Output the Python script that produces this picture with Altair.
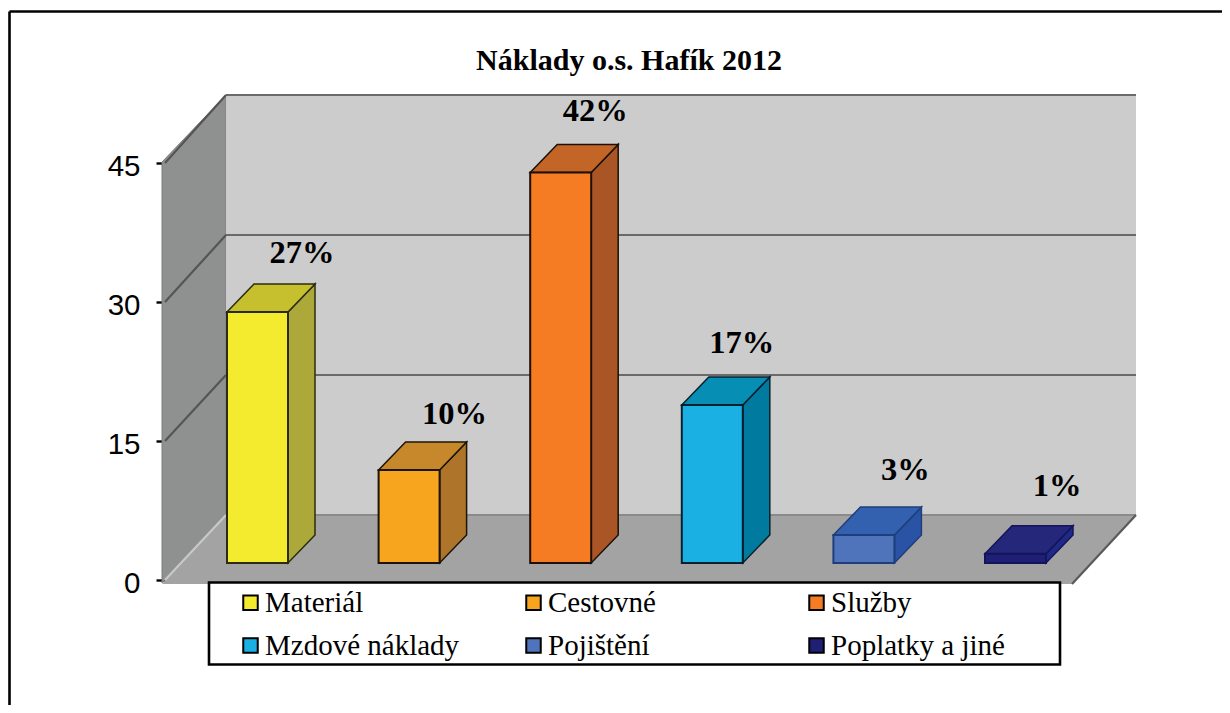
import altair as alt
import pandas as pd

# ---- values
categories = ["Materiál", "Cestovné", "Služby", "Mzdové náklady", "Pojištění", "Poplatky a jiné"]
values = [27, 10, 42, 17, 3, 1]
axis_ticks = [0, 15, 30, 45]
title_text = "Náklady o.s. Hafík 2012"

# ---- styles
front_colors = ["#F5EB2E", "#F7A51E", "#F57C22", "#1BB0E3", "#4F74BC", "#1E1F75"]
top_colors = ["#C6C02E", "#C6882A", "#C46528", "#078EB5", "#3460B0", "#25287A"]
side_colors = ["#ACA83A", "#AD742A", "#A95525", "#007A9E", "#2A52A5", "#1E2A85"]
edge_colors = ["#2b2b10", "#1c1408", "#1c1008", "#04202c", "#1e3f7c", "#14145a"]

# ---- layout (page pixels, converted to scale units below)
STEP, PPU = 151.6, 9.3
BAR_LEFT, BAR_BASE = 227.0, 563.0
PLOT_L, PLOT_R, PLOT_T, PLOT_B = 165, 1072, 163, 580
W = 61 / STEP
DX, DY = 27 / STEP, 28 / PPU
label_dx = [75, 76, 65, 60, 72, 72]
label_dy = [59, 56, 61, 62, 65, 68]
SERIF, SANS = "Liberation Serif", "Liberation Sans"


def X(px):
    return (px - BAR_LEFT) / STEP


def Y(py):
    return (BAR_BASE - py) / PPU


xs = alt.Scale(domain=[X(PLOT_L), X(PLOT_R)])
ys = alt.Scale(domain=[Y(PLOT_B), Y(PLOT_T)])
x_ = lambda f="x": alt.X(f"{f}:Q", scale=xs, axis=None)
y_ = lambda f="y": alt.Y(f"{f}:Q", scale=ys, axis=None)

# axis layer: its own 0-45 scale on the front plane
axis_layer = alt.Chart(pd.DataFrame({"v": axis_ticks})).mark_rule(opacity=0).encode(
    y=alt.Y(
        "v:Q",
        scale=alt.Scale(domain=[0, 45]),
        axis=alt.Axis(
            values=axis_ticks, title=None, grid=False, domain=False, tickSize=9, tickWidth=2.4,
            tickColor="black", labelFont=SANS, labelFontSize=29.5, labelColor="black",
            labelPadding=16, labelFlush=False, format="d", labelOffset=3,
        ),
    )
)

# walls and floor
left_wall = alt.Chart(pd.DataFrame({
    "x": [X(162), X(226)], "y": [Y(162), Y(95)], "y2": [Y(583), Y(515)],
})).mark_area(fill="#8F9190", stroke="#7c7c7c", strokeWidth=1).encode(x=x_(), y=y_(), y2="y2:Q")
back_wall = alt.Chart(pd.DataFrame({
    "x": [X(226), X(1136)], "y": [Y(95)] * 2, "y2": [Y(515)] * 2,
})).mark_area(fill="#CCCCCC").encode(x=x_(), y=y_(), y2="y2:Q")
floor = alt.Chart(pd.DataFrame({
    "y": [Y(515), Y(584)], "x": [X(226), X(162)], "x2": [X(1136), X(1072)],
})).mark_area(orient="horizontal", fill="#A3A3A3").encode(x=x_(), x2="x2:Q", y=y_())

# grid lines, derived from the ticks on both walls
rows = []
for k, t in enumerate(axis_ticks):
    back_y = 515 - 140 * t / 15
    front_y = 580 - 139 * t / 15
    color = "#6a6a6a" if t else "#8a8a8a"
    rows += [dict(id=f"b{k}", x=X(226), y=Y(back_y), c=color), dict(id=f"b{k}", x=X(1136), y=Y(back_y), c=color)]
    diag = "#555555" if t else "#c8c8c8"
    rows += [dict(id=f"d{k}", x=X(165), y=Y(front_y), c=diag), dict(id=f"d{k}", x=X(226), y=Y(back_y), c=diag)]
rows += [dict(id="r", x=X(1072), y=Y(584), c="#5a5a5a"), dict(id="r", x=X(1136), y=Y(515), c="#5a5a5a")]
grid = alt.Chart(pd.DataFrame(rows)).mark_line(strokeWidth=2.2).encode(
    x=x_(), y=y_(), detail="id:N", stroke=alt.Stroke("c:N", scale=None)
)

# bar faces, all from the values
side_rows, top_rows = [], []
for i, v in enumerate(values):
    side_rows += [
        dict(b=i, x=i + W, y=v, y2=0, f=side_colors[i], e=edge_colors[i]),
        dict(b=i, x=i + W + DX, y=v + DY, y2=DY, f=side_colors[i], e=edge_colors[i]),
    ]
    top_rows += [
        dict(b=i, y=v, x=i, x2=i + W, f=top_colors[i], e=edge_colors[i]),
        dict(b=i, y=v + DY, x=i + DX, x2=i + W + DX, f=top_colors[i], e=edge_colors[i]),
    ]
sides = alt.Chart(pd.DataFrame(side_rows)).mark_area(strokeWidth=1.5).encode(
    x=x_(), y=y_(), y2="y2:Q", detail="b:N",
    fill=alt.Fill("f:N", scale=None), stroke=alt.Stroke("e:N", scale=None),
)
tops = alt.Chart(pd.DataFrame(top_rows)).mark_area(orient="horizontal", strokeWidth=1.5).encode(
    x=x_(), x2="x2:Q", y=y_(), detail="b:N",
    fill=alt.Fill("f:N", scale=None), stroke=alt.Stroke("e:N", scale=None),
)

bar_df = pd.DataFrame({
    "cat": categories, "value": values, "zero": [0] * 6,
    "x": list(range(6)), "x2": [i + W for i in range(6)],
    "e": edge_colors,
    "lx": [i + d / STEP for i, d in enumerate(label_dx)],
    "ly": [v + d / PPU for v, d in zip(values, label_dy)],
    "label": [f"{v}%" for v in values],
})
fronts = alt.Chart(bar_df).mark_bar(strokeWidth=2).encode(
    x=x_(), x2="x2:Q", y=y_("value"), y2="zero:Q",
    stroke=alt.Stroke("e:N", scale=None),
    fill=alt.Fill(
        "cat:N",
        scale=alt.Scale(domain=categories, range=front_colors),
        legend=alt.Legend(
            orient="none", legendX=71, legendY=425, columns=3, title=None, gridAlign="all",
            direction="horizontal",
            symbolType="square", symbolSize=210, symbolStrokeColor="black", symbolStrokeWidth=2,
            symbolOpacity=1, labelFont=SERIF, labelFontSize=29, labelColor="black", labelOffset=0,
            labelLimit=400, columnPadding=59, rowPadding=13, padding=0,
        ),
    ),
)
labels = alt.Chart(bar_df).mark_text(
    font=SERIF, fontSize=32.5, fontWeight="bold", color="black", baseline="middle", align="center"
).encode(x=x_("lx"), y=y_("ly"), text="label:N")

title_mark = alt.Chart(pd.DataFrame({"x": [X(629)], "y": [Y(61)], "t": [title_text]})).mark_text(
    font=SERIF, fontSize=30, fontWeight="bold", color="black", baseline="middle", align="center"
).encode(x=x_(), y=y_(), text="t:N")

# legend box
box = alt.Chart(pd.DataFrame({
    "x": [X(209)], "x2": [X(1060)], "y": [Y(582.5)], "y2": [Y(664.5)],
})).mark_rect(fill="white", stroke="black", strokeWidth=2.6).encode(x=x_(), x2="x2:Q", y=y_(), y2="y2:Q")

# page frame: top and left only
frame_top = alt.Chart(pd.DataFrame({"x": [X(9.5)], "x2": [X(1232)], "y": [Y(11.5)]})).mark_rule(
    color="black", strokeWidth=2.6
).encode(x=x_(), x2="x2:Q", y=y_())
frame_left = alt.Chart(pd.DataFrame({"x": [X(9.5)], "y": [Y(11.5)], "y2": [Y(720)]})).mark_rule(
    color="black", strokeWidth=2.6
).encode(x=x_(), y=y_(), y2="y2:Q")

chart = alt.layer(
    axis_layer, left_wall, back_wall, floor, grid, frame_top, frame_left, box,
    sides, tops, fronts, labels, title_mark,
).resolve_scale(y="independent").properties(
    width=PLOT_R - PLOT_L,
    height=PLOT_B - PLOT_T,
    padding={"left": PLOT_L - 8, "top": PLOT_T - 8, "right": 150, "bottom": 125},
    autosize=alt.AutoSizeParams(type="none"),
    background="white",
).configure_view(stroke=None)

chart.save("out.html", embed_options={"renderer": "svg", "actions": False})
